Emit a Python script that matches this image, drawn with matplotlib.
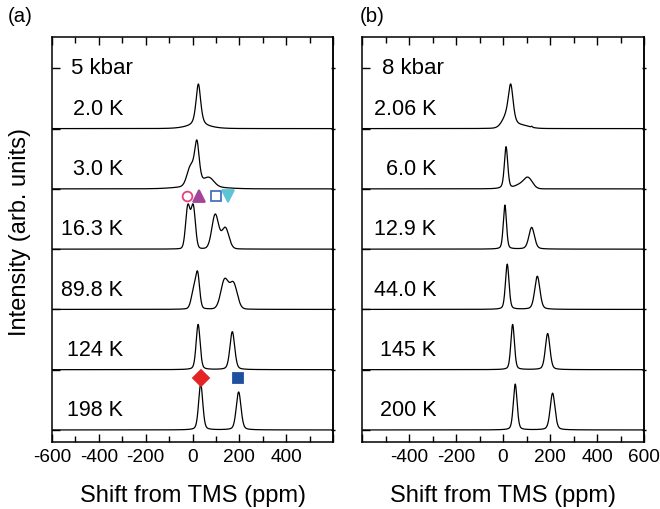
import numpy as np
import matplotlib
matplotlib.use("Agg")
import matplotlib.pyplot as plt

plt.rcParams['font.family'] = ['Liberation Sans', 'DejaVu Sans']

# ---------------- data ----------------
pressure_a = "5 kbar"
temps_a = ["2.0 K", "3.0 K", "16.3 K", "89.8 K", "124 K", "198 K"]
# peak components per spectrum: centre (ppm), height, FWHM (ppm), Lorentz fraction
centers_a = [[25, 25], [19, -8, 70, 30], [-20, 3, 97, 140], [5, 22, 137, 175], [24, 170], [35, 197]]
heights_a = [[0.70, 0.04], [0.70, 0.30, 0.14, 0.04], [0.70, 0.70, 0.57, 0.35], [0.30, 0.55, 0.48, 0.42], [0.75, 0.63], [0.76, 0.63]]
widths_a = [[24, 120], [24, 36, 50, 200], [22, 22, 34, 36], [24, 20, 38, 38], [20, 24], [21, 24]]
lorentz_a = [[0.6, 0.0], [0.5, 0.0, 0.0, 0.0], [0.1, 0.1, 0.1, 0.1], [0.2, 0.2, 0.1, 0.1], [0.3, 0.3], [0.3, 0.3]]

pressure_b = "8 kbar"
temps_b = ["2.06 K", "6.0 K", "12.9 K", "44.0 K", "145 K", "200 K"]
centers_b = [[33, 18, 75, 122], [13, 105, 65], [8, 122], [18, 146], [41, 190], [52, 211]]
heights_b = [[0.58, 0.18, 0.05, 0.015], [0.70, 0.19, 0.05], [0.73, 0.36], [0.75, 0.55], [0.75, 0.60], [0.76, 0.61]]
widths_b = [[24, 48, 80, 6], [17, 45, 40], [16, 28], [18, 26], [18, 23], [19, 24]]
lorentz_b = [[0.5, 0.0, 0.0, 0.0], [0.4, 0.0, 0.0], [0.3, 0.3], [0.3, 0.3], [0.3, 0.3], [0.3, 0.3]]

# symbols marking the sites
sym_shift_a = [-25, 28, 101, 152, 35, 195]
sym_level_a = [3.88, 3.88, 3.88, 3.88, 0.87, 0.87]
sym_marker = ['o', '^', 's', 'v', 'D', 's']
sym_color = ['#e8407f', '#a2449a', '#4a70c0', '#5cc4d4', '#e42424', '#1f4f9f']
sym_filled = [False, True, False, True, True, True]
sym_size = [7, 8, 7, 8, 8.5, 7]

xticks = [-600, -400, -200, 0, 200, 400, 600]
xlabels_a = ["-600", "-400", "-200", "0", "200", "400", ""]
xlabels_b = ["", "-400", "-200", "0", "200", "400", "600"]


def pvoigt(x, c, h, w, eta):
    g = np.exp(-4 * np.log(2) * ((x - c) / w) ** 2)
    l = 1.0 / (1.0 + ((x - c) / (w / 2)) ** 2)
    return h * (eta * l + (1 - eta) * g)


fig = plt.figure(figsize=(6.6, 5.09), dpi=100)
ax_a = fig.add_axes([52 / 660, 1 - 442 / 509, 281 / 660, 405 / 509])
ax_b = fig.add_axes([362 / 660, 1 - 442 / 509, 282 / 660, 405 / 509])

x = np.linspace(-600, 600, 2401)


def draw(ax, pressure, temps, cs, hs, ws, es, xlabels, label_x):
    n = len(temps)
    for i in range(n):
        off = n - 1 - i
        y = np.zeros_like(x)
        for c, h, w, e in zip(cs[i], hs[i], ws[i], es[i]):
            y += pvoigt(x, c, h, w, e)
        ax.plot(x, y + off, color='black', lw=0.9)
        ax.text(label_x, off + 0.32, temps[i], ha='right', va='center', fontsize=15.5)
    ax.text(-517, 6.0, pressure, ha='left', va='center', fontsize=16)
    ax.set_xlim(-600, 600)
    ax.set_ylim(-0.2, 6.52)
    ax.set_xticks(xticks)
    ax.set_xticklabels(xlabels, fontsize=13.7)
    ax.set_xticks(np.arange(-500, 600, 200), minor=True)
    ax.set_yticks(range(0, 7))
    ax.set_yticklabels([])
    ax.tick_params(axis='x', which='major', direction='in', top=True, length=6, width=1, pad=5)
    ax.tick_params(axis='x', which='minor', direction='in', top=True, length=4, width=1)
    ax.tick_params(axis='y', which='major', direction='in', left=True, right=False, length=6, width=1)
    ry = ax.secondary_yaxis('right')
    ry.set_yticks(range(0, 7))
    ry.set_yticklabels([])
    ry.tick_params(direction='inout', length=3, width=1)
    for s in ax.spines.values():
        s.set_linewidth(1.1)
    ry.spines['right'].set_linewidth(1.1)
    ax.set_xlabel("Shift from TMS (ppm)", fontsize=17, labelpad=14)


draw(ax_a, pressure_a, temps_a, centers_a, heights_a, widths_a, lorentz_a, xlabels_a, -297)
draw(ax_b, pressure_b, temps_b, centers_b, heights_b, widths_b, lorentz_b, xlabels_b, -283)

for xs, ys, m, col, f, ms in zip(sym_shift_a, sym_level_a, sym_marker, sym_color, sym_filled, sym_size):
    ax_a.plot([xs], [ys], marker=m, ms=ms, linestyle='none',
              markeredgecolor=col, markerfacecolor=col if f else 'none', markeredgewidth=1.3)

fig.text(20 / 660, 1 - 232 / 509, "Intensity (arb. units)", rotation=90, ha='center', va='center', fontsize=17)
fig.text(8 / 660, 1 - 16 / 509, "(a)", ha='left', va='center', fontsize=14.7)
fig.text(360 / 660, 1 - 16 / 509, "(b)", ha='left', va='center', fontsize=14.7)

fig.savefig("out.png", dpi=100)
